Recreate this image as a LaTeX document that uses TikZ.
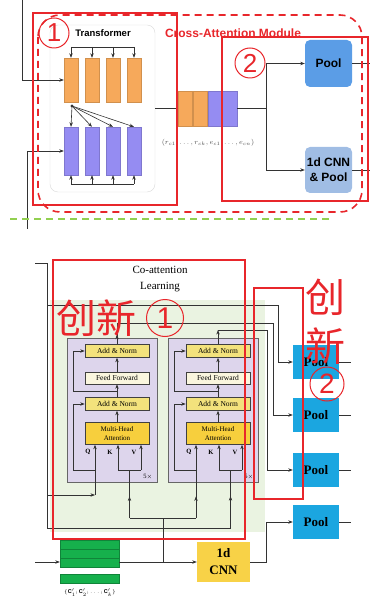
\documentclass[tikz,border=0pt]{standalone}
\usepackage{fontspec}
\setmainfont{Liberation Sans}
\newfontfamily\tms{Liberation Serif}
\newfontfamily\cjk{Noto Sans CJK SC}
\usepackage{tikz}
\usetikzlibrary{arrows.meta,positioning,decorations.markings}
\definecolor{orgc}{HTML}{F6A95B}
\definecolor{bluc}{HTML}{958CF2}
\definecolor{poolc}{HTML}{5B9DE6}
\definecolor{cnpc}{HTML}{A0BDE4}
\definecolor{redc}{HTML}{E8262B}
\definecolor{grdc}{HTML}{92D050}
\definecolor{cyanc}{HTML}{1BA6E0}
\definecolor{ylwc}{HTML}{F8D247}
\definecolor{anc}{HTML}{F3E27C}
\definecolor{ffc}{HTML}{FAF6DE}
\definecolor{mhac}{HTML}{F7CF3D}
\definecolor{frmc}{HTML}{DDD5EC}
\definecolor{bgg}{HTML}{EAF3E1}
\definecolor{grnc}{HTML}{16B04C}
\definecolor{lnc}{HTML}{333333}
\tikzset{
  ar/.style={-{Stealth[length=1.6mm,width=1.2mm]},line width=0.6pt,lnc},
  ln/.style={line width=0.6pt,lnc},
  midar/.style={postaction={decorate,decoration={markings,mark=at position #1 with {\arrow{Stealth[length=1.6mm,width=1.2mm]}}}}},
  col/.style={draw=#1!85!black,line width=0.3pt,fill=#1,minimum width=14pt,inner sep=0pt},
  tok/.style={draw=#1!85!black,line width=0.3pt,fill=#1,minimum width=14.5pt,minimum height=35pt,inner sep=0pt},
  pbox/.style={rounded corners=5pt,minimum width=47pt,inner sep=0pt,align=center,font=\bfseries\fontsize{12}{15}\selectfont},
  frm/.style={draw=black!60,line width=0.5pt,fill=frmc,minimum width=90pt,minimum height=144pt,inner sep=0pt},
  lay/.style={draw=black!75,line width=0.5pt,minimum width=64pt,inner sep=0pt,align=center,font=\tms\fontsize{7.5}{8.5}\selectfont},
  qkv/.style={inner sep=0pt,font=\tms\bfseries\fontsize{6.5}{7}\selectfont},
  cpool/.style={fill=cyanc,minimum width=46pt,minimum height=34pt,inner sep=0pt,font=\tms\bfseries\fontsize{13}{15}\selectfont},
  grnrow/.style={draw=grnc!75!black,line width=0.3pt,fill=grnc,minimum width=59pt,minimum height=8.7pt,inner sep=0pt},
  redbox/.style={draw=redc,line width=2.4pt},
  rdash/.style={draw=redc,line width=1.6pt,dash pattern=on 7pt off 5pt,rounded corners=22pt},
  redtxt/.style={text=redc,inner sep=0pt,font=\cjk\fontsize{40}{40}\selectfont},
  rcirc/.style={circle,draw=redc,line width=1pt,text=redc,inner sep=0pt}
}
\begin{document}
\begin{tikzpicture}[x=1pt,y=-1pt]
\useasboundingbox (0,0) rectangle (370,601);
\node[draw=black!15,rounded corners=8pt,minimum width=105pt,minimum height=167pt,inner sep=0pt] (trf) at (102.5,108.5) {};
\node[font=\bfseries\fontsize{9.5}{11}\selectfont] (trft) at (103,33) {Transformer};
\foreach \i/\x in {1/71,2/92,3/113,4/134} {
  \node[col=orgc,minimum height=44pt] (oc\i) at (\x,80) {};
  \node[col=bluc,minimum height=48pt] (bc\i) at (\x,151) {};
}
\coordinate (tbus) at (0,47);
\coordinate (bbus) at (0,184);
\coordinate (fan) at (72,106);
\draw[ln] (oc1.north|-tbus) -- (oc4.north|-tbus);
\draw[ln] (bc1.south|-bbus) -- (bc4.south|-bbus);
\fill[lnc] (fan) circle (1.6pt);
\foreach \i in {1,...,4} {
  \draw[ar] (oc\i.north|-tbus) -- (oc\i.north);
  \draw[ar] (bc\i.south|-bbus) -- (bc\i.south);
  \draw[ar] (fan) -- (bc\i.north);
}
\coordinate (in1) at (22,0);
\coordinate (in2) at (27,229);
\draw[ar] (in1) |- (oc1.west);
\draw[ar] (in2) |- (bc1.west);
\node[tok=orgc] (tk1) at (185.3,108.5) {};
\node[tok=orgc,right=0pt of tk1] (tk2) {};
\node[tok=bluc,right=0pt of tk2] (tk3) {};
\node[tok=bluc,right=0pt of tk3] (tk4) {};
\node[text=black!70,inner sep=0pt,font=\fontsize{7.5}{9}\selectfont] (tkl) at (208,143) {$(r_{c1},\ldots,r_{ck},e_{c1},\ldots,e_{cn})$};
\draw[ln] (trf.east) -- (tk1.west);
\coordinate (br) at (266,108.5);
\node[pbox,fill=poolc,minimum height=47pt] (pl) at (328.5,63.5) {Pool};
\node[pbox,fill=cnpc,minimum height=46pt] (cp) at (328.5,170) {1d CNN\\\& Pool};
\draw[ln] (tk4.east) -- (br);
\draw[ar] (br) |- (pl.west);
\draw[ar] (br) |- (cp.west);
\coordinate (rim) at (370,0);
\draw[ln] (pl.east) -- (pl.east-|rim);
\draw[ln] (cp.east) -- (cp.east-|rim);
\draw[rdash] (38,15) rectangle (362,212);
\node[text=redc,font=\bfseries\fontsize{12}{14}\selectfont,inner sep=0pt] (cam) at (233,33) {Cross-Attention Module};
\draw[redbox] (33,13) rectangle (177,205);
\draw[redbox] (222,37) rectangle (368,201);
\node[rcirc,minimum size=30pt,font=\fontsize{26}{26}\selectfont] (ca) at (54,33) {1};
\node[rcirc,minimum size=30pt,font=\fontsize{26}{26}\selectfont] (cb) at (250,63) {2};
\draw[grdc,line width=2.5pt,dash pattern=on 7pt off 5pt] (10,219) -- (330,219);
\fill[bgg] (50,300) rectangle (265,532);
\node[font=\tms\fontsize{11}{16}\selectfont,align=center,inner sep=0pt] (catl) at (160,279) {Co-attention\\Learning};
\foreach \k/\cx in {1/117,2/218} {
  \node[frm] (blk\k) at (\cx-5,410) {};
  \node[lay,fill=anc,minimum height=13pt] (ant\k) at (\cx,351) {Add \& Norm};
  \node[lay,fill=ffc,minimum height=12pt] (ff\k) at (\cx,378) {Feed Forward};
  \node[lay,fill=anc,minimum height=13pt] (anb\k) at (\cx,404) {Add \& Norm};
  \node[lay,fill=mhac,minimum height=22pt,font=\tms\fontsize{7}{8.5}\selectfont] (mha\k) at (\cx,433.5) {Multi-Head\\Attention};
  \draw[ar] (mha\k.north) -- (anb\k.south);
  \draw[ar] (anb\k.north) -- (ff\k.south);
  \draw[ar] (ff\k.north) -- (ant\k.south);
  \node[qkv] (ql\k) at (\cx-29,452) {Q};
  \node[qkv] (kl\k) at (\cx-7,452) {K};
  \node[qkv] (vl\k) at (\cx+17,452) {V};
  \node[qkv,font=\tms\fontsize{6.5}{7}\selectfont] (nx\k) at (\cx+31,477) {5$\times$};
  \coordinate (qq\k) at (\cx-22,470);
  \coordinate (kk\k) at (\cx+1,470);
  \coordinate (vv\k) at (\cx+24,470);
  \coordinate (rs\k) at (\cx-44,470);
  \coordinate (ru\k) at (\cx-44,391);
  \draw[ar] (qq\k) -- (qq\k|-mha\k.south);
  \draw[ar] (kk\k) -- (kk\k|-mha\k.south);
  \draw[ar] (vv\k) -- (vv\k|-mha\k.south);
  \draw[ln] (kk\k) -- (vv\k);
  \draw[ln] (qq\k) -- (rs\k);
  \draw[ar] (rs\k) |- (anb\k.west);
  \draw[ln] (anb\k.north|-ru\k) -- (ru\k);
  \draw[ar] (ru\k) |- (ant\k.west);
}
\node[cpool] (pb1) at (316,362) {Pool};
\node[cpool] (pb2) at (316,415) {Pool};
\node[cpool] (pb3) at (316,470) {Pool};
\node[cpool] (pb4) at (316,522) {Pool};
\coordinate (rim2) at (351,0);
\foreach \i in {1,...,4} \draw[ln] (pb\i.east) -- (pb\i.east-|rim2);
\coordinate (lft1) at (35,263);
\coordinate (lft2) at (47,263);
\coordinate (lft3) at (47,528);
\coordinate (pa) at (47,305);
\coordinate (pbk) at (278,305);
\draw[ln] (lft1) -- (lft2) -- (lft3);
\draw[ar] (pa) -- (pbk) |- (pb1.west);
\coordinate (oa1) at (117,323);
\coordinate (ob1) at (273,323);
\coordinate (oa2) at (218,330);
\coordinate (ob2) at (267,330);
\draw[ln,midar=0.45] (ant1.north) -- (oa1);
\draw[ln] (oa1) -- (ob1);
\draw[ar] (ob1) |- (pb2.west);
\draw[ar] (ant2.north) -- (oa2);
\draw[ln] (oa2) -- (ob2);
\draw[ar] (ob2) |- (pb3.west);
\coordinate (qf1) at (95,495);
\coordinate (kf1) at (129.5,518);
\coordinate (kv1) at (129.5,470);
\coordinate (qf2) at (196,518);
\coordinate (kf2) at (230.5,528);
\coordinate (kv2) at (230.5,470);
\coordinate (cj) at (163,518);
\draw[ar] (lft2|-qf1) -- (qf1);
\draw[ln] (qf1) -- (qq1);
\draw[ln,midar=0.45] (kf1) -- (kv1);
\draw[ln] (kf1) -- (qf2);
\draw[ln,midar=0.45] (qf2) -- (qq2);
\draw[ln] (lft3) -- (kf2);
\draw[ln,midar=0.55] (kf2) -- (kv2);
\node[grnrow] (gs1) at (89.5,544.3) {};
\node[grnrow,below=0pt of gs1] (gs2) {};
\node[grnrow,below=0pt of gs2] (gs3) {};
\node[grnrow,minimum height=9pt] (gb) at (89.5,578.5) {};
\node[inner sep=0pt,font=\fontsize{5.5}{6}\selectfont] (gl) at (90,593) {$\{\mathbf{C}'_1;\mathbf{C}'_2;\ldots;\mathbf{C}'_{k}\}$};
\node[fill=ylwc,minimum width=53pt,minimum height=40pt,inner sep=0pt,align=center,font=\tms\bfseries\fontsize{13}{17}\selectfont] (cnn) at (223.5,562) {1d\\CNN};
\coordinate (ing) at (35,562);
\draw[ar] (ing) -- (ing-|gs3.west);
\draw[ar] (ing-|gs3.east) -- (cnn.west);
\draw[ln] (cj) -- (cj|-cnn.west);
\coordinate (cnj) at (266,0);
\draw[ar] (cnn.east) -| (cnj|-pb4.west) -- (pb4.west);
\draw[redbox] (53,260) rectangle (245,539);
\draw[redbox] (254,288) rectangle (303,499);
\node[redtxt] (cx1) at (96,318) {创新};
\node[rcirc,minimum size=37pt,font=\fontsize{30}{30}\selectfont] (cc1) at (165,318) {1};
\node[redtxt] (cx2) at (325,297) {创};
\node[redtxt] (cx3) at (325,346) {新};
\node[rcirc,minimum size=34pt,font=\fontsize{28}{28}\selectfont] (cc2) at (327,384) {2};
\end{tikzpicture}
\end{document}
